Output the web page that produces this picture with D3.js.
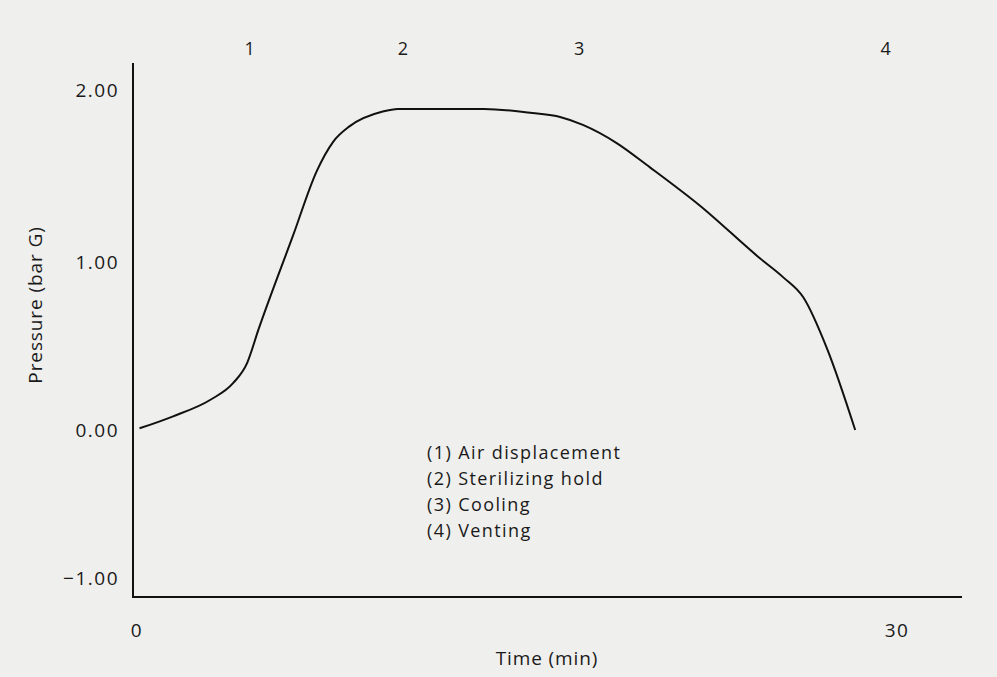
<!DOCTYPE html>
<html><head><meta charset="utf-8">
<script src="https://cdn.jsdelivr.net/npm/d3@7"></script>
<style>
html,body{margin:0;padding:0;background:#efefed;}
svg{display:block;}
text{font-family:"Open Sans","Noto Sans",sans-serif;fill:#1a1a1a;}
</style></head><body>
<svg id="c" width="997" height="677"></svg>
<script>
// Data
const timeMin = [0.1, 1.4, 2.9, 3.8, 4.35, 4.8, 6.15, 7.1, 7.75, 8.4, 9.7, 10.3, 13.7, 15.6, 16.7, 17.6, 18.95, 20.25, 22.2, 24.6, 25.5, 26.3, 27.25, 28.35];
const pressure = [0.01, 0.08, 0.18, 0.28, 0.40, 0.60, 1.15, 1.53, 1.70, 1.79, 1.875, 1.89, 1.89, 1.866, 1.843, 1.797, 1.69, 1.55, 1.33, 1.02, 0.91, 0.79, 0.48, 0.0];
const yTicks = [-1, 0, 1, 2];
const xTickLabels = [0, 30];
const phaseNumbers = ["1", "2", "3", "4"];
const phaseTimes = [4.45, 10.5, 17.45, 29.55];
const legendItems = ["(1) Air displacement", "(2) Sterilizing hold", "(3) Cooling", "(4) Venting"];

const svg = d3.select("#c");
const x = d3.scaleLinear().domain([0, 30]).range([137, 897]);
// hand-drawn axis: spacing between gridlines is not uniform
const y = d3.scaleLinear().domain([-1, 0, 1, 2]).range([578, 430, 262, 90]);

// axes lines
svg.append("line").attr("x1", 133).attr("x2", 133).attr("y1", 63).attr("y2", 598)
  .attr("stroke", "#111").attr("stroke-width", 2);
svg.append("line").attr("x1", 132).attr("x2", 962).attr("y1", 597).attr("y2", 597)
  .attr("stroke", "#111").attr("stroke-width", 2);

// y tick labels
svg.append("g").selectAll("text").data(yTicks).join("text")
  .attr("x", 119).attr("y", d => y(d)).attr("dy", "0.36em")
  .attr("text-anchor", "end").attr("font-size", 19).attr("letter-spacing", 1.5)
  .text(d => (d < 0 ? "\u2212" : "") + Math.abs(d).toFixed(2));

// x tick labels
svg.append("g").selectAll("text").data(xTickLabels).join("text")
  .attr("x", d => x(d)).attr("y", 630).attr("dy", "0.36em")
  .attr("text-anchor", "middle").attr("font-size", 19).attr("letter-spacing", 1.5)
  .text(d => d);

// axis titles
svg.append("text").attr("x", 547).attr("y", 658).attr("dy", "0.36em")
  .attr("text-anchor", "middle").attr("font-size", 19).attr("letter-spacing", 0.9)
  .text("Time (min)");
svg.append("text").attr("transform", "translate(35,305) rotate(-90)")
  .attr("dy", "0.36em").attr("text-anchor", "middle").attr("font-size", 19).attr("letter-spacing", 0.9)
  .text("Pressure (bar G)");

// phase numbers
svg.append("g").selectAll("text").data(phaseNumbers).join("text")
  .attr("x", (d, i) => x(phaseTimes[i])).attr("y", 49).attr("dy", "0.36em")
  .attr("text-anchor", "middle").attr("font-size", 18)
  .attr("font-family", "Roboto, sans-serif")
  .text(d => d);

// curve
const pts = timeMin.map((t, i) => [t, pressure[i]]);
const line = d3.line().x(d => x(d[0])).y(d => y(d[1])).curve(d3.curveMonotoneX);
svg.append("path").attr("d", line(pts)).attr("fill", "none")
  .attr("stroke", "#111").attr("stroke-width", 2).attr("stroke-linejoin", "round");

// legend
svg.append("g").selectAll("text").data(legendItems).join("text")
  .attr("x", 427).attr("y", (d, i) => 453 + i * 26).attr("dy", "0.36em")
  .attr("font-size", 18).attr("letter-spacing", 1.4)
  .text(d => d);
</script>
</body></html>
